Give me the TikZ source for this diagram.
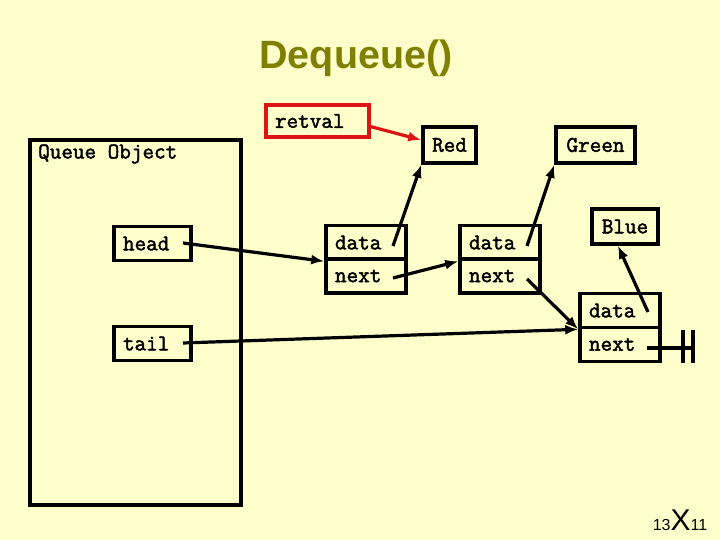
\documentclass[tikz,border=0pt]{standalone}
\usepackage{fontspec}
\setmainfont{Liberation Sans}
\newfontfamily\mono[FakeBold=2]{Latin Modern Mono}
\usetikzlibrary{positioning,arrows.meta}
\definecolor{paper}{RGB}{255,255,204}
\definecolor{olivetitle}{RGB}{128,128,0}
\definecolor{ptrred}{RGB}{220,20,20}

\begin{document}
\begin{tikzpicture}[x=1pt,y=-1pt,
    cell/.style={draw, line width=3.6pt, font=\fontsize{22.5}{22.5}\mono, inner xsep=9pt,
                 inner ysep=0pt, minimum height=34pt, text width=62pt, align=left},
    val/.style={draw, line width=3.6pt, font=\fontsize{22.5}{22.5}\mono, inner sep=0pt,
                minimum height=36pt, align=center},
    ptr/.style={-{Latex[length=13pt,width=10pt]}, line width=3.2pt}]
    % background and frame
    \fill[paper] (0,0) rectangle (720,540);
    \useasboundingbox (0,0) rectangle (720,540);
    \node[font=\bfseries\fontsize{39.5}{39.5}\selectfont, text=olivetitle] (title) at (356,58) {Dequeue()};
    % queue object
    \node[draw, line width=3.6pt, minimum width=211pt, minimum height=365pt] (queue) at (135.5,322.5) {};
    \node[font=\fontsize{22.5}{22.5}\mono, anchor=west, inner sep=0pt] (qlabel) at (38,154) {Queue Object};
    \node[cell, text width=59pt] (head) at (152.5,243.5) {head};
    \node[cell, text width=59pt] (tail) at (152.5,343.5) {tail};
    % retval
    \node[cell, draw=ptrred, text width=85pt, minimum height=32pt] (retval) at (317.5,121) {retval};
    % values
    \node[val, minimum width=53pt] (red) at (449.5,145) {Red};
    \node[val, minimum width=79pt] (green) at (595.5,145) {Green};
    \node[val, minimum width=66pt, minimum height=35pt] (blue) at (625,226.5) {Blue};
    % list nodes
    \node[cell] (n1data) at (366,242.5) {data};
    \node[cell] (n1next) at (366,276) {next};
    \node[cell] (n2data) at (500,242.5) {data};
    \node[cell] (n2next) at (500,276) {next};
    \node[cell] (n3data) at (620,310.5) {data};
    \node[cell] (n3next) at (620,344.5) {next};
    % pointer tails
    \coordinate (headp) at (183,243);
    \coordinate (tailp) at (183,343);
    \coordinate (n1dp) at (393,246);
    \coordinate (n1np) at (393,278);
    \coordinate (n2dp) at (527,246);
    \coordinate (n2np) at (527,279);
    \coordinate (n3dp) at (648,312);
    \coordinate (n3np) at (647,348);
    \coordinate (gnd) at (693,348);
    \draw[ptr, ptrred] (retval.-6) -- (red.170);
    \draw[ptr] (headp) -- (n1data.south west);
    \draw[ptr] (tailp) -- (n3data.south west);
    \draw[ptr] (n1dp) -- (red.south west);
    \draw[ptr] (n1np) -- (n2data.south west);
    \draw[ptr] (n2dp) -- (green.south west);
    \draw[ptr] (n2np) -- (n3data.south west);
    \draw[ptr] (n3dp) -- (blue.250);
    % null pointer
    \draw[line width=3.6pt] (n3np) -- (gnd);
    \draw[line width=3.6pt] (683,330) -- (683,363);
    \draw[line width=3.6pt] (693,330) -- (693,363);
    % slide number
    \node[anchor=base, inner sep=0pt] (pageno) at (680,530)
        {{\fontsize{16}{16}\selectfont 13}{\fontsize{30}{30}\selectfont X}{\fontsize{16}{16}\selectfont 11}};
\end{tikzpicture}
\end{document}
